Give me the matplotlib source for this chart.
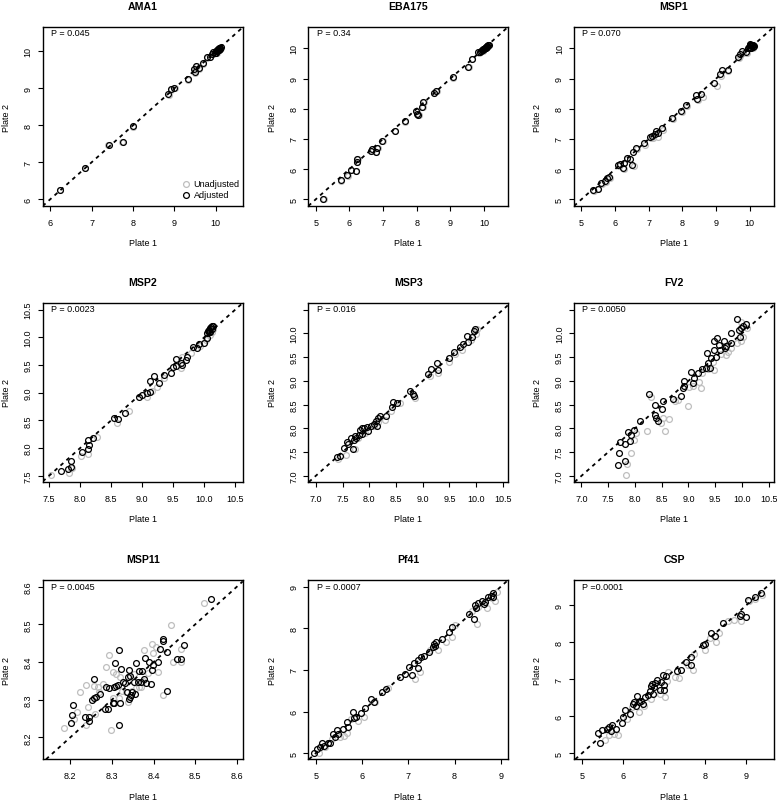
import matplotlib
matplotlib.use('Agg')
import matplotlib.pyplot as plt

plt.rcParams['font.family'] = ['Liberation Sans', 'DejaVu Sans']

W, H = 777, 803
GRAY = '#BEBEBE'

# ---------------- data ----------------
panel_names = ['AMA1', 'EBA175', 'MSP1', 'MSP2', 'MSP3', 'FV2',
               'MSP11', 'Pf41', 'CSP']
p_labels = ['P = 0.045', 'P = 0.34', 'P = 0.070', 'P = 0.0023', 'P = 0.016',
            'P = 0.0050', 'P = 0.0045', 'P = 0.0007', 'P =0.0001']

# AMA1
ama1_adj_x = [6.24, 6.84, 7.41, 7.75, 8.01, 8.85, 8.92, 8.99, 9.32, 9.48, 9.49,
              9.53, 9.59, 9.68, 9.78, 9.86, 9.92, 9.94, 9.97, 10.00, 10.02,
              10.04, 10.05, 10.06, 10.08, 10.09, 10.10, 10.12, 10.01, 10.07]
ama1_adj_y = [6.25, 6.86, 7.47, 7.56, 7.97, 8.84, 8.98, 9.02, 9.25, 9.52, 9.43,
              9.61, 9.54, 9.68, 9.84, 9.86, 9.93, 9.99, 9.96, 10.00, 10.03,
              10.02, 10.06, 10.04, 10.08, 10.07, 10.10, 10.11, 9.97, 10.05]
ama1_raw_x = [6.23, 6.83, 7.40, 7.74, 8.00, 8.86, 8.93, 9.01, 9.33, 9.49, 9.50,
              9.54, 9.60, 9.69, 9.79, 9.87, 9.93, 9.95, 9.98, 10.01, 10.03,
              10.05, 10.06, 10.07, 10.09, 10.10, 10.11, 10.13, 10.02, 10.08]
ama1_raw_y = [6.24, 6.85, 7.46, 7.55, 7.96, 8.83, 8.97, 9.01, 9.24, 9.51, 9.42,
              9.60, 9.53, 9.67, 9.83, 9.85, 9.92, 9.98, 9.95, 9.99, 10.02,
              10.01, 10.05, 10.03, 10.07, 10.06, 10.09, 10.10, 9.96, 10.04]

# EBA175
eba_adj_x = [5.23, 5.74, 5.94, 6.04, 6.19, 6.22, 6.24, 6.63, 6.68, 6.78, 6.83,
             6.98, 7.35, 7.65, 7.99, 8.02, 8.05, 8.17, 8.20, 8.50, 8.58, 9.08,
             9.53, 9.63, 9.83, 9.88, 9.92, 9.95, 9.97, 10.00, 10.02, 10.04,
             10.06, 10.08, 10.10, 10.12, 10.14, 9.98, 10.05, 10.10]
eba_adj_y = [5.02, 5.63, 5.80, 5.97, 5.94, 6.24, 6.35, 6.60, 6.66, 6.57, 6.71,
             6.94, 7.26, 7.58, 7.93, 7.82, 7.79, 8.06, 8.23, 8.52, 8.60, 9.04,
             9.40, 9.65, 9.87, 9.88, 9.92, 9.94, 9.97, 9.99, 10.01, 10.03,
             10.05, 10.07, 10.09, 10.11, 10.13, 9.95, 10.00, 10.06]
eba_raw_x = [5.24, 5.75, 5.95, 6.05, 6.20, 6.23, 6.25, 6.64, 6.69, 6.79, 6.84,
             6.99, 7.36, 7.66, 8.00, 8.03, 8.06, 8.18, 8.21, 8.51, 8.59, 9.09,
             9.54, 9.64, 9.84, 9.89, 9.93, 9.96, 9.98, 10.01, 10.03, 10.05,
             10.07, 10.09, 10.11, 10.13]
eba_raw_y = [5.01, 5.62, 5.79, 5.96, 5.93, 6.23, 6.34, 6.59, 6.65, 6.56, 6.70,
             6.93, 7.25, 7.57, 7.92, 7.81, 7.78, 8.05, 8.22, 8.51, 8.59, 9.03,
             9.39, 9.64, 9.86, 9.87, 9.91, 9.93, 9.96, 9.98, 10.00, 10.02,
             10.04, 10.06, 10.08, 10.10]

# MSP1
msp1_adj_x = [5.35, 5.48, 5.59, 5.71, 5.77, 5.82, 6.09, 6.14, 6.24, 6.27, 6.34,
              6.44, 6.49, 6.53, 6.63, 6.85, 7.03, 7.11, 7.18, 7.21, 7.26, 7.38,
              7.69, 7.95, 8.12, 8.40, 8.42, 8.56, 8.94, 9.11, 9.18, 9.34, 9.65,
              9.70, 9.77, 9.90, 9.95, 9.98, 10.00, 10.02, 10.04, 10.06, 10.08,
              10.10, 10.12, 10.01, 10.05, 10.09]
msp1_adj_y = [5.30, 5.35, 5.55, 5.61, 5.72, 5.75, 6.14, 6.16, 6.05, 6.22, 6.38,
              6.35, 6.14, 6.57, 6.71, 6.86, 7.05, 7.10, 7.16, 7.27, 7.19, 7.35,
              7.70, 7.92, 8.14, 8.46, 8.32, 8.48, 8.84, 9.14, 9.28, 9.29, 9.73,
              9.81, 9.92, 9.89, 10.02, 10.06, 10.10, 10.03, 10.12, 10.07, 10.10,
              10.05, 10.09, 10.14, 10.00, 10.13]
msp1_raw_x = [5.37, 5.50, 5.61, 5.73, 5.86, 6.12, 6.27, 6.36, 6.57, 6.66, 6.89,
              7.06, 7.14, 7.28, 7.42, 7.72, 7.98, 8.15, 8.47, 8.60, 9.04, 9.14,
              9.36, 9.69, 9.72, 9.80, 9.93, 10.02, 10.06, 10.10, 10.13]
msp1_raw_y = [5.27, 5.33, 5.52, 5.58, 5.70, 6.11, 6.02, 6.34, 6.11, 6.68, 6.79,
              7.02, 7.04, 7.05, 7.29, 7.66, 7.88, 8.10, 8.28, 8.40, 8.74, 9.10,
              9.25, 9.68, 9.75, 9.86, 9.85, 10.00, 10.04, 10.02, 10.08]

# MSP2
msp2_adj_x = [7.69, 7.81, 7.86, 7.85, 8.04, 8.13, 8.15, 8.13, 8.21, 8.54, 8.62,
              8.73, 8.95, 9.00, 9.08, 9.12, 9.13, 9.19, 9.27, 9.36, 9.47, 9.50,
              9.55, 9.55, 9.62, 9.64, 9.72, 9.71, 9.82, 9.89, 9.91, 9.99, 10.04,
              10.05, 10.07, 10.08, 10.10, 10.11, 10.12, 10.13, 10.14, 10.09,
              10.06]
msp2_adj_y = [7.58, 7.63, 7.66, 7.76, 7.93, 7.98, 8.05, 8.14, 8.19, 8.54, 8.53,
              8.64, 8.93, 8.96, 9.00, 9.22, 9.01, 9.30, 9.17, 9.32, 9.36, 9.47,
              9.49, 9.61, 9.53, 9.50, 9.65, 9.60, 9.82, 9.80, 9.88, 9.90, 9.98,
              10.07, 10.10, 10.13, 10.16, 10.18, 10.20, 10.15, 10.21, 10.09,
              10.12]
msp2_raw_x = [7.53, 7.82, 7.87, 8.01, 8.13, 8.28, 8.60, 8.79, 9.08, 9.16, 9.24,
              9.35, 9.62, 9.64, 9.78, 9.93, 10.03, 10.10, 10.12, 10.14]
msp2_raw_y = [7.51, 7.56, 7.64, 7.86, 7.90, 8.21, 8.46, 8.68, 8.93, 9.04, 9.11,
              9.26, 9.44, 9.65, 9.72, 9.85, 9.96, 10.05, 10.10, 10.15]

# MSP3
msp3_adj_x = [7.39, 7.45, 7.52, 7.58, 7.61, 7.66, 7.69, 7.72, 7.73, 7.76, 7.80,
              7.83, 7.86, 7.87, 7.91, 7.95, 7.98, 8.04, 8.08, 8.12, 8.14, 8.16,
              8.20, 8.32, 8.42, 8.45, 8.51, 8.76, 8.82, 8.84, 9.10, 9.15, 9.27,
              9.29, 9.49, 9.59, 9.70, 9.75, 9.83, 9.85, 9.92, 9.96, 9.98]
msp3_adj_y = [7.40, 7.42, 7.59, 7.72, 7.68, 7.79, 7.56, 7.75, 7.84, 7.79, 7.86,
              7.96, 8.00, 7.89, 8.00, 8.02, 7.95, 8.05, 8.10, 8.16, 8.05, 8.21,
              8.26, 8.26, 8.45, 8.56, 8.54, 8.79, 8.72, 8.68, 9.14, 9.25, 9.37,
              9.23, 9.49, 9.61, 9.72, 9.78, 9.94, 9.82, 9.93, 10.04, 10.09]
msp3_raw_x = [7.42, 7.56, 7.73, 7.79, 7.92, 8.08, 8.17, 8.29, 8.41, 8.57, 8.85,
              9.13, 9.29, 9.49, 9.60, 9.73, 9.91, 10.00, 10.01]
msp3_raw_y = [7.35, 7.44, 7.56, 7.79, 7.91, 8.04, 8.13, 8.17, 8.36, 8.54, 8.63,
              9.10, 9.17, 9.40, 9.56, 9.66, 9.86, 9.98, 10.10]

# FV2
fv2_adj_x = [7.68, 7.70, 7.72, 7.81, 7.82, 7.87, 7.90, 7.92, 7.99, 8.10, 8.27,
             8.38, 8.38, 8.40, 8.44, 8.50, 8.52, 8.72, 8.86, 8.89, 8.92, 8.92,
             9.04, 9.09, 9.11, 9.17, 9.26, 9.32, 9.34, 9.37, 9.40, 9.43, 9.48,
             9.48, 9.52, 9.54, 9.57, 9.59, 9.66, 9.69, 9.71, 9.79, 9.79, 9.91,
             9.94, 9.96, 9.99, 10.02, 10.07]
fv2_adj_y = [7.22, 7.48, 7.72, 7.31, 7.68, 7.93, 7.74, 7.87, 7.96, 8.15, 8.72,
             8.29, 8.49, 8.21, 8.15, 8.41, 8.57, 8.62, 8.68, 8.86, 8.89, 9.00,
             9.19, 8.96, 9.05, 9.16, 9.25, 9.28, 9.59, 9.38, 9.28, 9.48, 9.65,
             9.85, 9.51, 9.90, 9.75, 9.66, 9.85, 9.69, 9.73, 10.01, 9.80, 10.30,
             10.08, 9.92, 10.11, 10.16, 10.20]
fv2_raw_x = [7.84, 7.86, 7.93, 7.99, 8.02, 8.23, 8.30, 8.49, 8.53, 8.57, 8.64,
             8.75, 8.81, 9.00, 9.01, 9.08, 9.19, 9.23, 9.26, 9.37, 9.45, 9.47,
             9.60, 9.70, 9.74, 9.79, 9.91, 9.99, 10.02, 10.09, 9.98]
fv2_raw_y = [7.01, 7.25, 7.48, 7.75, 7.91, 7.94, 8.66, 8.12, 8.22, 7.95, 8.19,
             8.58, 8.60, 8.47, 8.88, 8.89, 8.98, 8.84, 9.16, 9.24, 9.40, 9.23,
             9.57, 9.55, 9.60, 9.69, 9.80, 9.85, 9.93, 10.11, 10.23]

# MSP11
msp11_adj_x = [8.202, 8.204, 8.207, 8.236, 8.244, 8.245, 8.252, 8.256, 8.258,
               8.263, 8.271, 8.284, 8.287, 8.290, 8.294, 8.302, 8.304, 8.306,
               8.308, 8.311, 8.314, 8.316, 8.318, 8.319, 8.322, 8.326, 8.332,
               8.336, 8.338, 8.340, 8.342, 8.343, 8.344, 8.346, 8.348, 8.354,
               8.356, 8.359, 8.362, 8.366, 8.370, 8.372, 8.376, 8.380, 8.382,
               8.390, 8.394, 8.396, 8.398, 8.410, 8.416, 8.422, 8.423, 8.432,
               8.432, 8.456, 8.467, 8.473, 8.539]
msp11_adj_y = [8.237, 8.260, 8.286, 8.255, 8.244, 8.255, 8.300, 8.304, 8.354,
               8.308, 8.316, 8.276, 8.333, 8.276, 8.331, 8.291, 8.291, 8.333,
               8.398, 8.336, 8.340, 8.431, 8.233, 8.292, 8.382, 8.347, 8.344,
               8.320, 8.360, 8.302, 8.380, 8.307, 8.364, 8.313, 8.320, 8.347,
               8.316, 8.398, 8.347, 8.376, 8.347, 8.376, 8.354, 8.411, 8.344,
               8.401, 8.342, 8.380, 8.391, 8.401, 8.436, 8.455, 8.462, 8.427,
               8.324, 8.409, 8.409, 8.445, 8.567]
msp11_raw_x = [8.186, 8.210, 8.216, 8.223, 8.238, 8.239, 8.242, 8.258, 8.260,
               8.266, 8.270, 8.279, 8.286, 8.292, 8.298, 8.302, 8.303, 8.310,
               8.318, 8.320, 8.324, 8.334, 8.338, 8.348, 8.354, 8.359, 8.364,
               8.370, 8.374, 8.378, 8.386, 8.396, 8.399, 8.406, 8.410, 8.422,
               8.442, 8.446, 8.465, 8.466, 8.522]
msp11_raw_y = [8.224, 8.249, 8.267, 8.320, 8.233, 8.340, 8.280, 8.336, 8.262,
               8.333, 8.320, 8.342, 8.387, 8.420, 8.220, 8.373, 8.304, 8.369,
               8.304, 8.360, 8.322, 8.320, 8.293, 8.324, 8.369, 8.331, 8.333,
               8.333, 8.351, 8.431, 8.371, 8.447, 8.424, 8.440, 8.373, 8.313,
               8.498, 8.400, 8.400, 8.436, 8.556]

# Pf41
pf41_adj_x = [4.96, 5.02, 5.09, 5.13, 5.17, 5.26, 5.31, 5.38, 5.41, 5.47, 5.48,
              5.60, 5.67, 5.69, 5.80, 5.83, 5.87, 5.98, 6.07, 6.20, 6.25, 6.43,
              6.52, 6.82, 6.92, 7.02, 7.08, 7.13, 7.21, 7.21, 7.28, 7.34, 7.45,
              7.54, 7.56, 7.59, 7.57, 7.72, 7.87, 7.95, 8.31, 8.42, 8.43, 8.46,
              8.50, 8.59, 8.63, 8.66, 8.73, 8.78, 8.82, 8.84]
pf41_adj_y = [5.00, 5.10, 5.14, 5.24, 5.18, 5.24, 5.24, 5.47, 5.38, 5.56, 5.46,
              5.58, 5.74, 5.62, 5.98, 5.84, 5.88, 5.97, 6.08, 6.30, 6.24, 6.46,
              6.55, 6.83, 6.91, 7.07, 6.87, 7.17, 7.23, 7.04, 7.31, 7.33, 7.43,
              7.55, 7.61, 7.66, 7.58, 7.75, 7.90, 8.03, 8.33, 8.22, 8.56, 8.49,
              8.60, 8.65, 8.58, 8.64, 8.76, 8.78, 8.84, 8.76]
pf41_raw_x = [5.07, 5.19, 5.36, 5.53, 5.62, 5.67, 5.76, 5.91, 6.05, 6.27, 6.57,
              7.15, 7.26, 7.47, 7.65, 7.81, 7.94, 8.01, 8.48, 8.37, 8.51, 8.70,
              8.81, 8.88, 8.91]
pf41_raw_y = [5.00, 5.14, 5.34, 5.38, 5.42, 5.48, 5.82, 5.78, 5.86, 6.22, 6.56,
              6.77, 6.95, 7.47, 7.47, 7.67, 7.79, 8.07, 8.11, 8.42, 8.52, 8.49,
              8.72, 8.65, 8.88]

# CSP
csp_adj_x = [5.39, 5.43, 5.49, 5.62, 5.67, 5.70, 5.74, 5.82, 5.98, 5.99, 6.05,
             6.18, 6.24, 6.28, 6.32, 6.35, 6.38, 6.43, 6.48, 6.53, 6.61, 6.65,
             6.67, 6.70, 6.73, 6.75, 6.77, 6.83, 6.89, 6.93, 6.97, 6.99, 6.99,
             7.05, 7.31, 7.42, 7.54, 7.65, 7.66, 7.95, 8.00, 8.13, 8.23, 8.43,
             8.84, 8.88, 8.98, 9.04, 9.22, 9.35]
csp_adj_y = [5.56, 5.27, 5.63, 5.67, 5.72, 5.61, 5.77, 5.65, 5.83, 5.97, 6.18,
             6.06, 6.33, 6.39, 6.29, 6.54, 6.38, 6.42, 6.33, 6.51, 6.57, 6.67,
             6.83, 6.87, 6.60, 6.78, 6.91, 6.99, 6.72, 6.93, 7.12, 6.70, 6.85,
             7.10, 7.21, 7.26, 7.46, 7.60, 7.39, 7.93, 7.96, 8.25, 8.16, 8.53,
             8.71, 8.75, 8.68, 9.14, 9.21, 9.32]
csp_raw_x = [5.57, 5.67, 5.78, 5.88, 6.10, 6.22, 6.40, 6.51, 6.67, 6.91, 7.01,
             7.08, 7.09, 7.26, 7.35, 7.58, 7.70, 7.73, 7.99, 8.11, 8.27, 8.33,
             8.55, 8.70, 8.86, 9.06, 9.22, 9.37]
csp_raw_y = [5.36, 5.49, 5.52, 5.49, 5.94, 6.24, 6.12, 6.29, 6.47, 6.60, 6.53,
             6.94, 7.19, 7.05, 7.03, 7.39, 7.24, 7.69, 7.78, 8.10, 8.00, 8.26,
             8.57, 8.59, 8.57, 9.11, 9.16, 9.27]

adjusted = [(ama1_adj_x, ama1_adj_y), (eba_adj_x, eba_adj_y),
            (msp1_adj_x, msp1_adj_y), (msp2_adj_x, msp2_adj_y),
            (msp3_adj_x, msp3_adj_y), (fv2_adj_x, fv2_adj_y),
            (msp11_adj_x, msp11_adj_y), (pf41_adj_x, pf41_adj_y),
            (csp_adj_x, csp_adj_y)]
unadjusted = [(ama1_raw_x, ama1_raw_y), (eba_raw_x, eba_raw_y),
              (msp1_raw_x, msp1_raw_y), (msp2_raw_x, msp2_raw_y),
              (msp3_raw_x, msp3_raw_y), (fv2_raw_x, fv2_raw_y),
              (msp11_raw_x, msp11_raw_y), (pf41_raw_x, pf41_raw_y),
              (csp_raw_x, csp_raw_y)]

# tick values per panel
ticks_6_10 = [6, 7, 8, 9, 10]
ticks_5_10 = [5, 6, 7, 8, 9, 10]
ticks_75 = [7.5, 8.0, 8.5, 9.0, 9.5, 10.0, 10.5]
ticks_70 = [7.0, 7.5, 8.0, 8.5, 9.0, 9.5, 10.0, 10.5]
ticks_82 = [8.2, 8.3, 8.4, 8.5, 8.6]
ticks_5_9 = [5, 6, 7, 8, 9]
x_ticks = [ticks_6_10, ticks_5_10, ticks_5_10, ticks_75, ticks_70, ticks_70,
           ticks_82, ticks_5_9, ticks_5_9]
y_ticks = [ticks_6_10, ticks_5_10, ticks_5_10, ticks_75, ticks_70, ticks_70,
           ticks_82, ticks_5_9, ticks_5_9]
decimals = [0, 0, 0, 1, 1, 1, 1, 0, 0]
hide_top_ylabel = [False, False, False, False, True, True, False, False, False]

# ---------------- layout (pixels of the reference) ----------------
col_left = [42.7, 308.3, 574.0]
row_top = [28.0, 304.0, 581.3]
box_w, box_h = 200.0, 179.0
x_limits = [(5.82, 10.65), (4.78, 10.72), (4.78, 10.72),
            (7.40, 10.62), (6.86, 10.60), (6.86, 10.60),
            (8.134, 8.614), (4.84, 9.16), (4.81, 9.67)]
y_limits = [(5.82, 10.66), (4.78, 10.71), (4.78, 10.71),
            (7.39, 10.62), (6.87, 10.64), (6.87, 10.64),
            (8.142, 8.617), (4.855, 9.15), (4.84, 9.67)]
TXT = 6.5
MS = 4.2

fig = plt.figure(figsize=(W / 100, H / 100), dpi=100)


def fx(px):
    return px / W


def fy(py):
    return 1 - py / H


for i, name in enumerate(panel_names):
    r, c = divmod(i, 3)
    left, top = col_left[c], row_top[r]
    ax = fig.add_axes([fx(left), fy(top + box_h), box_w / W, box_h / H])

    ux, uy = unadjusted[i]
    axx, axy = adjusted[i]
    ax.plot(ux, uy, 'o', mfc='none', mec=GRAY, ms=MS, mew=0.9)
    ax.plot(axx, axy, 'o', mfc='none', mec='black', ms=MS, mew=0.9)
    ax.axline((0, 0), slope=1, color='black', lw=1.3, ls=(0, (2.1, 2.3)))

    ax.set_xlim(*x_limits[i])
    ax.set_ylim(*y_limits[i])

    fmt = '{:.0f}' if decimals[i] == 0 else '{:.1f}'
    ax.set_xticks(x_ticks[i])
    ax.set_xticklabels([fmt.format(v) for v in x_ticks[i]])
    ylabs = [fmt.format(v) for v in y_ticks[i]]
    if hide_top_ylabel[i]:
        ylabs[-1] = ''
    ax.set_yticks(y_ticks[i])
    ax.set_yticklabels(ylabs, rotation=90, va='center')
    ax.tick_params(direction='out', length=3.3, width=0.8,
                   labelsize=TXT, colors='black')
    ax.tick_params(axis='x', pad=5)
    ax.tick_params(axis='y', pad=4)
    for s in ax.spines.values():
        s.set_linewidth(1.0)

    ax.text(8.5 / box_w, 1 - 6 / box_h, p_labels[i], transform=ax.transAxes,
            fontsize=TXT, ha='left', va='center')

    cx = left + box_w / 2
    fig.text(fx(cx), fy(top - 21), name, ha='center', va='center',
             fontsize=7.6, fontweight='bold')
    fig.text(fx(cx), fy(top + box_h + 37), 'Plate 1', ha='center',
             va='center', fontsize=TXT)
    fig.text(fx(left - 36), fy(top + box_h / 2), 'Plate 2', ha='center',
             va='center', rotation=90, fontsize=TXT)

    if i == 0:
        # legend drawn by hand, no frame
        for k, (lab, col) in enumerate([('Unadjusted', GRAY),
                                        ('Adjusted', 'black')]):
            yy = 185 + 11 * k - top
            ax.plot([(185.7 - left) / box_w], [1 - yy / box_h], 'o',
                    mfc='none', mec=col, ms=MS, mew=0.9,
                    transform=ax.transAxes, clip_on=False)
            ax.text((193.5 - left) / box_w, 1 - yy / box_h, lab,
                    transform=ax.transAxes, fontsize=TXT, ha='left',
                    va='center')

fig.savefig('out.png', dpi=100)
